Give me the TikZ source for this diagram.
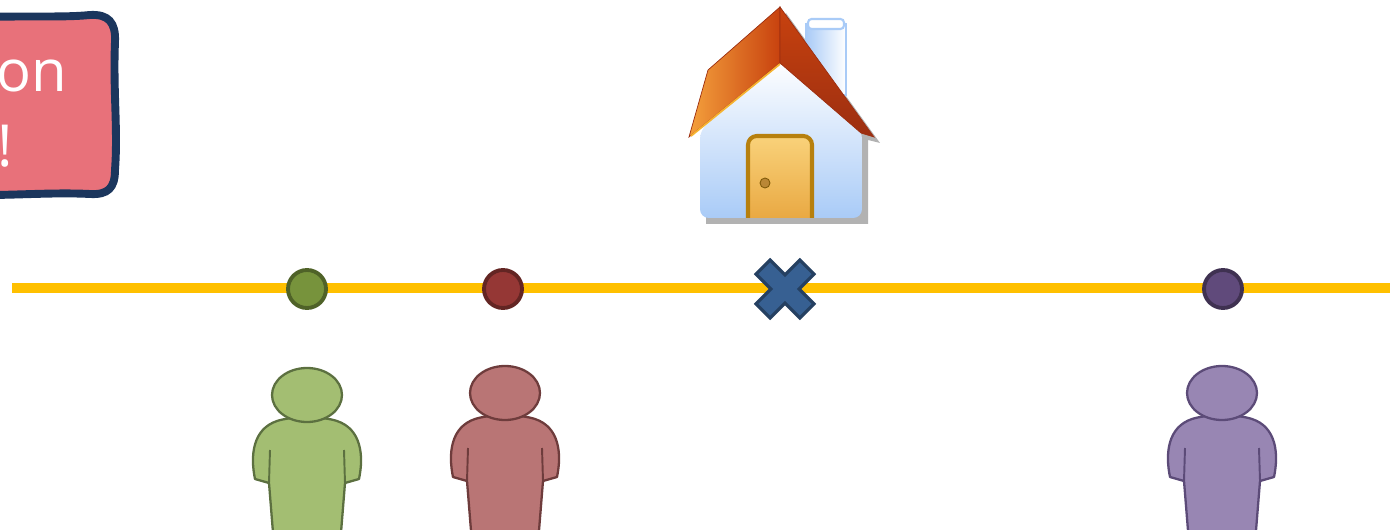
\documentclass[tikz,border=0pt]{standalone}
\usepackage{fontspec}
\setsansfont{Open Sans}
\usetikzlibrary{positioning}

\definecolor{roadyellow}{HTML}{FFC000}
\definecolor{dotgreen}{HTML}{77933C}
\definecolor{dotgreenedge}{HTML}{4F6228}
\definecolor{dotred}{HTML}{953735}
\definecolor{dotrededge}{HTML}{632523}
\definecolor{dotpurple}{HTML}{604A7B}
\definecolor{dotpurpleedge}{HTML}{3F3151}
\definecolor{crossblue}{HTML}{376092}
\definecolor{crossedge}{HTML}{254061}
\definecolor{boxpink}{HTML}{E8717A}
\definecolor{boxedge}{HTML}{1B365D}
\definecolor{mangreen}{HTML}{A3BE72}
\definecolor{mangreenedge}{HTML}{5C7040}
\definecolor{manred}{HTML}{B97575}
\definecolor{manrededge}{HTML}{6E3C3C}
\definecolor{manpurple}{HTML}{9886B3}
\definecolor{manpurpleedge}{HTML}{5C4B78}
\definecolor{roofhi}{HTML}{F4A03C}
\definecolor{rooflo}{HTML}{C8420F}
\definecolor{roofdark}{HTML}{9C2E10}
\definecolor{wallblue}{HTML}{A9CBF7}
\definecolor{doorhi}{HTML}{F9D27A}
\definecolor{doorlo}{HTML}{E9A943}
\definecolor{dooredge}{HTML}{B7800E}

\tikzset{
  road/.style={roadyellow, line width=0.2cm},
  dot/.style={circle, draw=#1edge, fill=#1, line width=2.2pt, minimum size=0.76cm, inner sep=0pt},
  bubble/.style={fill=boxpink, draw=boxedge, line width=4.5pt, line join=round},
  bubbletext/.style={anchor=base east, inner sep=0pt, white, font=\sffamily\fontsize{33}{40}\selectfont},
  pics/person/.style n args={2}{code={
    \fill[#1, draw=#2, line width=1.3pt, line join=round]
      (-33,150) -- (-38,88) -- (-52,84) .. controls (-57,60) and (-54,34) .. (-30,26)
      .. controls (-15,21) and (15,21) .. (30,26) .. controls (54,34) and (57,60) .. (52,84)
      -- (38,88) -- (33,150) -- cycle;
    \draw[#2, line width=1.1pt] (-38,88) -- (-37,55) (38,88) -- (37,55);
    \fill[#1, draw=#2, line width=1.3pt] (0,0) ellipse [x radius=35, y radius=27];
  }}
}

\begin{document}
\begin{tikzpicture}[x=0.02cm, y=-0.02cm]
  \useasboundingbox (0,0) rectangle (1390,530);
  \clip (0,0) rectangle (1390,530);

  % speech bubble, cut at the left border
  \draw[bubble] (-40,18) .. controls (20,15) and (60,18) .. (90,15)
    .. controls (108,14) and (116,22) .. (115,42)
    .. controls (113,90) and (118,130) .. (115,170)
    .. controls (115,188) and (108,195) .. (90,194)
    .. controls (50,192) and (10,196) .. (-40,195) -- cycle;
  \node[bubbletext] (bLine1) at (67,92) {on};
  \node[bubbletext] (bLine2) at (13,167) {!};

  % house
  \fill[black, opacity=0.3] (786,13) -- (880,143) -- (868,140) -- (868,224)
    -- (706,224) -- (706,140) -- cycle;
  \shade[left color=wallblue, right color=white, draw=wallblue, line width=0.8pt] (806,24) rectangle (846,95);
  \draw[wallblue, line width=1.2pt, fill=white, rounded corners=2pt] (808,19) rectangle (844,29);
  \shade[top color=white, bottom color=wallblue, rounded corners=5pt]
    (700,130) -- (780,60) -- (862,130) -- (862,218) -- (700,218) -- cycle;
  \shade[left color=roofhi, right color=rooflo, draw=roofdark, line width=0.4pt]
    (780,7) -- (708,70) -- (689,137) -- (780,63) -- cycle;
  \shade[top color=rooflo, bottom color=roofdark, draw=roofdark, line width=0.4pt]
    (780,7) -- (874,137) -- (861,133) -- (780,63) -- cycle;
  \draw[roofhi!80!yellow, line width=1pt] (691,136) -- (780,64);
  \shade[top color=doorhi, bottom color=doorlo, draw=dooredge, line width=2.3pt, rounded corners=5pt]
    (748,218) -- (748,136) -- (812,136) -- (812,218);
  \fill[doorlo!80!black, draw=dooredge!70!black, line width=0.5pt] (765,183) circle [radius=5];

  % road with the spots on it
  \coordinate (roadL) at (12,288);
  \coordinate (roadR) at (1390,288);
  \draw[road] (roadL) -- (roadR);

  \node[dot=dotgreen] (dGreen) at (307,289) {};
  \node[dot=dotred] (dRed) at (503,289) {};
  \node[dot=dotpurple] (dPurple) at (1223,289) {};

  \coordinate (spot) at (785,289);
  \fill[crossblue, draw=crossedge, line width=1.8pt, line join=miter, shift={(spot)}, rotate=45]
    (10,31) -- (10,10) -- (31,10) -- (31,-10) -- (10,-10) -- (10,-31)
    -- (-10,-31) -- (-10,-10) -- (-31,-10) -- (-31,10) -- (-10,10) -- (-10,31) -- cycle;

  % people
  \pic (pGreen) at (307,395) {person={mangreen}{mangreenedge}};
  \pic (pRed) at (505,393) {person={manred}{manrededge}};
  \pic (pPurple) at (1222,393) {person={manpurple}{manpurpleedge}};
\end{tikzpicture}
\end{document}
